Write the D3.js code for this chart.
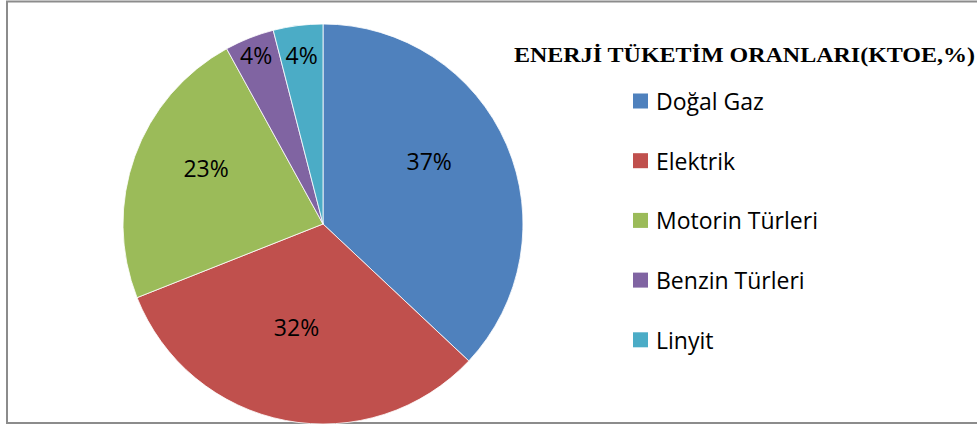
<!DOCTYPE html>
<html>
<head>
<meta charset="utf-8">
<script src="https://cdn.jsdelivr.net/npm/d3@7"></script>
<style>
html,body{margin:0;padding:0;background:#fff;}
svg{display:block;}
</style>
</head>
<body>
<svg id="chart" width="977" height="425"></svg>
<script>
const categories = ["Doğal Gaz", "Elektrik", "Motorin Türleri", "Benzin Türleri", "Linyit"];
const values = [37, 32, 23, 4, 4];
const colors = ["#4F81BD", "#C0504D", "#9BBB59", "#8064A2", "#4BACC6"];
const title = "ENERJİ TÜKETİM ORANLARI(KTOE,%)";

const svg = d3.select("#chart");
const W = 977, H = 425;

// frame
svg.append("rect").attr("x", 7).attr("y", 1.5).attr("width", W + 10).attr("height", 421.5)
  .attr("fill", "#fff").attr("stroke", "#8c8c8c").attr("stroke-width", 2);

const cx = 323, cy = 224, r = 200;
const pie = d3.pie().sort(null).value(d => d)(values);
const arc = d3.arc().innerRadius(0).outerRadius(r);
const g = svg.append("g").attr("transform", `translate(${cx},${cy})`);

g.selectAll("path").data(pie).join("path")
  .attr("d", arc)
  .attr("fill", (d, i) => colors[i])
  .attr("stroke", "#fff").attr("stroke-width", 0.8);

const labelArcBig = d3.arc().innerRadius(r * 0.6).outerRadius(r * 0.6);
g.selectAll("text").data(pie).join("text")
  .attr("transform", d => {
    if (d.data < 10) {
      // small slices: labels along bisector, at a common height near the rim
      const a = (d.startAngle + d.endAngle) / 2;
      const h = r * 0.845;
      return `translate(${h * Math.tan(a)},${-h})`;
    }
    const c = labelArcBig.centroid(d);
    return `translate(${c[0] - 4},${c[1] - 15})`;
  })
  .attr("text-anchor", "middle").attr("dominant-baseline", "central")
  .attr("font-family", "'Open Sans', sans-serif").attr("font-size", 23)
  .attr("fill", "#000")
  .text(d => d.data + "%");

// title
svg.append("text").attr("x", 514).attr("y", 62)
  .attr("font-family", "'Liberation Serif', 'Times New Roman', serif")
  .attr("font-weight", "bold").attr("font-size", 22)
  .attr("textLength", 461).attr("lengthAdjust", "spacingAndGlyphs")
  .text(title);

// legend
const lg = svg.append("g");
const row = lg.selectAll("g").data(categories).join("g")
  .attr("transform", (d, i) => `translate(633,${101 + i * 59.7})`);
row.append("rect").attr("x", 0).attr("y", -7.5).attr("width", 15).attr("height", 15)
  .attr("fill", (d, i) => colors[i]);
row.append("text").attr("x", 23).attr("y", 0)
  .attr("dominant-baseline", "central")
  .attr("font-family", "'Open Sans', sans-serif").attr("font-size", 23)
  .attr("fill", "#000")
  .text(d => d);
</script>
</body>
</html>
